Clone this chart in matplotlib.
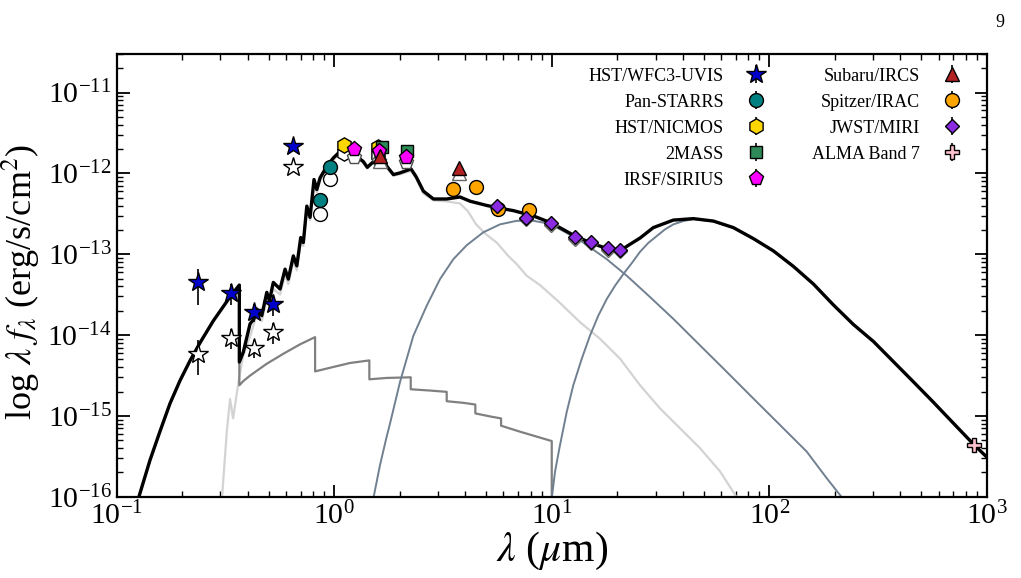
import matplotlib

matplotlib.use("Agg")

import matplotlib.pyplot as plt
import numpy as np

plt.rcParams["font.family"] = ["Liberation Serif", "DejaVu Serif"]
plt.rcParams["mathtext.fontset"] = "stix"

# ---- photometry: wavelength (micron), lambda*F_lambda (erg/s/cm2) ----
uvis_wl = [0.236, 0.334, 0.429, 0.525, 0.648]
uvis_f = [4.48e-14, 3.31e-14, 1.95e-14, 2.42e-14, 2.20e-12]
uvis_err = [2.1e-14, 0.93e-14, 0.48e-14, 0.68e-14, 0.0]
uvis_open = [5.86e-15, 9.25e-15, 6.9e-15, 1.09e-14, 1.19e-12]
uvis_open_err = [0.27e-14, 0.26e-14, 0.17e-14, 0.31e-14, 0.0]

ps_wl = [0.860, 0.956]
ps_f = [4.62e-13, 1.19e-12]
ps_open = [3.11e-13, 8.55e-13]

nicmos_wl = [1.109, 1.59]
nicmos_f = [2.26e-12, 2.10e-12]
nicmos_open = [1.79e-12, 1.70e-12]

tmass_wl = [1.654, 2.154]
tmass_f = [2.12e-12, 1.87e-12]

sirius_wl = [1.23, 1.61, 2.13]
sirius_f = [2.00e-12, 1.87e-12, 1.58e-12]
sirius_open = [1.60e-12, 1.41e-12, 1.37e-12]

ircs_wl = [1.63, 3.75]
ircs_f = [1.62e-12, 1.17e-12]
ircs_open = [1.42e-12, 1.02e-12]

irac_wl = [3.53, 4.49, 5.68, 7.87]
irac_f = [6.44e-13, 6.75e-13, 3.58e-13, 3.48e-13]

miri_wl = [5.62, 7.60, 9.93, 12.8, 15.1, 18.1, 20.7]
miri_f = [3.94e-13, 2.83e-13, 2.41e-13, 1.63e-13, 1.42e-13, 1.19e-13, 1.13e-13]
miri_open = [3.75e-13, 2.70e-13, 2.30e-13, 1.56e-13, 1.36e-13, 1.14e-13, 1.08e-13]

alma_wl = [874.0]
alma_f = [4.36e-16]

# ---- model curves, stored as log10(wavelength / micron), log10(lambda F_lambda) ----
total_logwl = [-0.900, -0.847, -0.801, -0.755, -0.709, -0.663, -0.617, -0.556, -0.476, -0.4363, -0.4362,
               -0.418, -0.387, -0.369, -0.356, -0.333, -0.310, -0.298, -0.280, -0.249,
               -0.226, -0.211, -0.188, -0.172, -0.154, -0.142, -0.126, -0.111, -0.093,
               -0.080, -0.065, -0.034, -0.004, 0.027, 0.057, 0.103, 0.134, 0.152, 0.180,
               0.218, 0.243, 0.272, 0.3025, 0.353, 0.376, 0.410, 0.456, 0.517, 0.578,
               0.624, 0.701, 0.762, 0.8235, 0.915, 0.997, 1.107, 1.176, 1.253, 1.317,
               1.360, 1.406, 1.467, 1.559, 1.651, 1.743, 1.835, 1.927, 2.019, 2.111,
               2.203, 2.295, 2.387, 2.479, 2.571, 2.663, 2.754, 2.846, 2.942, 3.0]
total_logf = [-16.02, -15.549, -15.192, -14.847, -14.564, -14.318, -14.096, -13.825, -13.517, -13.382, -14.334,
              -14.211, -13.862, -13.800, -13.677, -13.760, -13.472, -13.575, -13.349, -13.431,
              -13.185, -13.308, -13.021, -13.144, -12.794, -12.856, -12.405, -12.544, -12.076,
              -12.200, -12.055, -11.913, -11.809, -11.728, -11.686, -11.789, -11.855, -11.925, -11.855,
              -11.789, -11.916, -12.015, -11.994, -11.945, -12.039, -12.220, -12.317, -12.317, -12.292,
              -12.344, -12.397, -12.431, -12.461, -12.526, -12.612, -12.775, -12.856, -12.930, -12.951,
              -12.877, -12.800, -12.671, -12.578, -12.560, -12.590, -12.671, -12.807, -12.959, -13.151,
              -13.369, -13.628, -13.870, -14.080, -14.330, -14.580, -14.830, -15.090, -15.360, -15.51]

phot_logwl = [-0.516, -0.494, -0.479, -0.465, -0.436, -0.418, -0.387, -0.369, -0.356, -0.333,
              -0.310, -0.298, -0.280, -0.249, -0.226, -0.211, -0.188, -0.172, -0.154, -0.142,
              -0.126, -0.111, -0.093, -0.080, -0.065, -0.034, -0.004, 0.027, 0.057, 0.103,
              0.134, 0.152, 0.180, 0.218, 0.243, 0.272, 0.3025, 0.353, 0.376, 0.410, 0.456,
              0.517, 0.578, 0.615, 0.652, 0.698, 0.747, 0.800, 0.839, 0.885, 0.946, 1.038,
              1.130, 1.222, 1.314, 1.406, 1.498, 1.590, 1.682, 1.774, 1.860]
phot_logf = [-16.02, -15.20, -14.79, -15.03, -14.51, -14.25, -14.02, -13.86, -13.75, -13.83,
             -13.55, -13.65, -13.43, -13.50, -13.26, -13.37, -13.09, -13.20, -12.85, -12.90,
             -12.45, -12.58, -12.11, -12.24, -12.09, -11.94, -11.84, -11.75, -11.71, -11.81,
             -11.87, -11.94, -11.87, -11.81, -11.93, -12.03, -12.01, -11.97, -12.06, -12.25, -12.335,
             -12.347, -12.372, -12.470, -12.631, -12.754, -12.856, -13.021, -13.123, -13.267, -13.382, -13.603,
             -13.841, -14.047, -14.293, -14.622, -14.909, -15.155, -15.401, -15.688, -16.05]

accr_logwl = [-0.900, -0.847, -0.801, -0.755, -0.709, -0.663, -0.617, -0.556, -0.476, -0.4363, -0.4362,
              -0.418, -0.387, -0.310, -0.234, -0.157, -0.088, -0.0879, -0.004, 0.0726,
              0.1614, 0.1615, 0.2414, 0.3517, 0.3518, 0.4405, 0.517, 0.5171, 0.5936,
              0.6487, 0.6488, 0.7163, 0.767, 0.7671, 0.8543, 1.0, 1.0001]
accr_logf = [-16.02, -15.549, -15.192, -14.847, -14.564, -14.318, -14.096, -13.825, -13.517, -13.382, -14.622,
             -14.570, -14.502, -14.355, -14.232, -14.115, -14.026, -14.450, -14.395, -14.346,
             -14.314, -14.548, -14.531, -14.523, -14.671, -14.687, -14.703, -14.819, -14.839,
             -14.860, -14.970, -15.007, -15.032, -15.122, -15.196, -15.312, -16.10]

hot_logwl = [0.180, 0.2106, 0.2414, 0.2566, 0.3025, 0.3637, 0.4253, 0.4864, 0.5476, 0.609,
             0.6855, 0.762, 0.839, 0.915, 0.992, 1.038, 1.130, 1.253, 1.345, 1.437, 1.559,
             1.682, 1.805, 1.927, 2.050, 2.172, 2.264, 2.340]
hot_logf = [-16.02, -15.607, -15.254, -15.094, -14.580, -14.010, -13.637, -13.308, -13.062, -12.889,
            -12.729, -12.631, -12.587, -12.587, -12.624, -12.692, -12.828, -13.062, -13.267, -13.493, -13.800,
            -14.129, -14.457, -14.786, -15.115, -15.442, -15.771, -16.03]

cold_logwl = [1.0, 1.0152, 1.038, 1.069, 1.099, 1.138, 1.176, 1.214, 1.253, 1.291, 1.329, 1.368,
              1.406, 1.444, 1.483, 1.521, 1.559, 1.605, 1.651, 1.743, 1.835,
              1.927, 2.019, 2.111, 2.203, 2.295, 2.387, 2.479, 2.571, 2.663, 2.754, 2.846,
              2.942, 3.0]
cold_logf = [-16.02, -15.688, -15.361, -14.950, -14.622, -14.293, -14.006, -13.760, -13.554, -13.390,
             -13.246, -13.110, -12.970, -12.860, -12.775, -12.692, -12.631, -12.590, -12.565,
             -12.594, -12.675, -12.810, -12.962, -13.155, -13.372, -13.630, -13.872, -14.082, -14.332,
             -14.582, -14.832, -15.092, -15.362, -15.512]


def curve(logwl, logf):
    return 10.0 ** np.asarray(logwl), 10.0 ** np.asarray(logf)


fig = plt.figure(figsize=(10.21, 5.78), dpi=100)
ax = fig.add_axes([0.1143, 0.1407, 0.8522, 0.7659])

ax.plot(*curve(phot_logwl, phot_logf), color="lightgray", lw=1.6, zorder=2)
ax.plot(*curve(accr_logwl, accr_logf), color="gray", lw=1.6, zorder=2)
ax.plot(*curve(hot_logwl, hot_logf), color="slategray", lw=1.4, zorder=2)
ax.plot(*curve(cold_logwl, cold_logf), color="slategray", lw=1.4, zorder=2)
ax.plot(*curve(total_logwl, total_logf), color="black", lw=2.4, zorder=3)

# open symbols (model photometry) below the measured ones
open_sets = [
    (uvis_wl, uvis_open, uvis_open_err, "*", 15, "k"),
    (ps_wl, ps_open, None, "o", 10, "k"),
    (nicmos_wl, nicmos_open, None, "h", 11, "k"),
    (sirius_wl, sirius_open, None, "p", 11, "0.3"),
    (ircs_wl, ircs_open, None, "^", 10, "0.4"),
    (miri_wl, miri_open, None, "D", 7.5, "0.4"),
]
for wl, f, err, mk, ms, ec in open_sets:
    ax.errorbar(wl, f, yerr=err, fmt=mk, ms=ms, mfc="white", mec=ec, mew=1.0,
                ecolor="k", elinewidth=1.2, zorder=4)

series = [
    ("HST/WFC3-UVIS", uvis_wl, uvis_f, uvis_err, "*", 15, "mediumblue"),
    ("Pan-STARRS", ps_wl, ps_f, None, "o", 10, "teal"),
    ("HST/NICMOS", nicmos_wl, nicmos_f, None, "h", 11, "gold"),
    ("2MASS", tmass_wl, tmass_f, None, "s", 9, "seagreen"),
    ("IRSF/SIRIUS", sirius_wl, sirius_f, None, "p", 11, "magenta"),
    ("Subaru/IRCS", ircs_wl, ircs_f, None, "^", 10, "firebrick"),
    ("Spitzer/IRAC", irac_wl, irac_f, None, "o", 10, "orange"),
    ("JWST/MIRI", miri_wl, miri_f, None, "D", 7.5, "blueviolet"),
    ("ALMA Band 7", alma_wl, alma_f, None, "P", 10, "pink"),
]
handles = []
labels = []
for name, wl, f, err, mk, ms, col in series:
    if err is None:
        err = [0.0] * len(wl)
    h = ax.errorbar(wl, f, yerr=err, fmt=mk, ms=ms, mfc=col, mec="k", mew=1.0,
                    ecolor="k", elinewidth=1.2, zorder=5)
    handles.append(h)
    labels.append(name)

ax.set_xscale("log")
ax.set_yscale("log")
ax.set_xlim(0.1, 1000)
ax.set_ylim(1e-16, 3e-11)
ax.set_xlabel(r"$\lambda$ ($\mu$m)", fontsize=30, labelpad=0)
ax.set_ylabel(r"log $\lambda\ f_\lambda$ (erg/s/cm$^2$)", fontsize=26)
ax.yaxis.set_label_coords(-0.086, 0.485)
ax.tick_params(which="both", direction="in", top=True, right=True, labelsize=21.5)
ax.tick_params(which="major", length=9, width=1.3)
ax.tick_params(which="minor", length=4.5, width=1.0)
for sp in ax.spines.values():
    sp.set_linewidth(1.6)

ax.legend(handles, labels, ncol=2, markerfirst=False, frameon=False, loc="upper right",
          fontsize=13, labelspacing=0.5, columnspacing=2.1, handletextpad=0.8,
          borderaxespad=0.5, bbox_to_anchor=(1.0, 1.006))

fig.text(0.984, 0.975, "9", fontsize=13, ha="right", va="top")

fig.savefig("out.png", dpi=100)
plt.close(fig)
